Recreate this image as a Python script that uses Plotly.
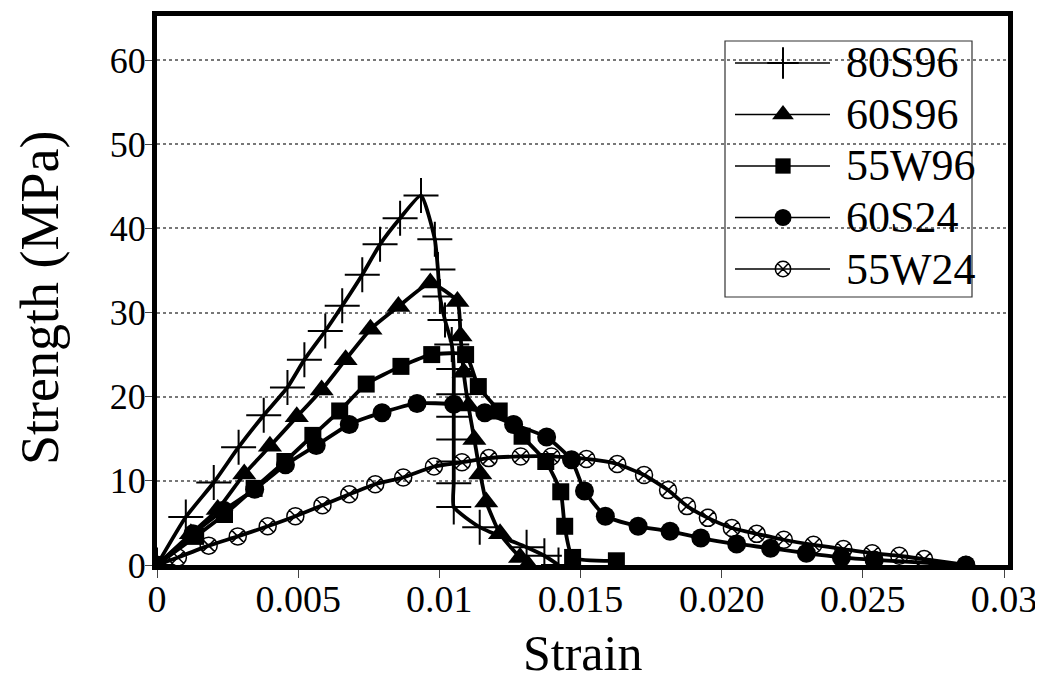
import plotly.graph_objects as go

# ---------------- data ----------------
series_names = ["80S96", "60S96", "55W96", "60S24", "55W24"]

strain_80S96 = [0, 0.00102, 0.00201, 0.00289, 0.00378, 0.00462, 0.00522, 0.00596, 0.00656,
                0.00727, 0.00790, 0.00861, 0.00935, 0.00984, 0.00995, 0.01002, 0.01020,
                0.01044, 0.01051, 0.01051, 0.01051, 0.01051, 0.01051, 0.01051, 0.01051,
                0.01143, 0.01309, 0.01372, 0.01422]
strength_80S96 = [0, 5.7, 9.8, 14.0, 17.8, 21.1, 24.4, 27.8, 30.8,
                  34.5, 38.1, 41.2, 43.9, 38.7, 35.1, 31.9, 29.1,
                  26.2, 23.3, 20.3, 17.6, 14.9, 12.3, 9.7, 6.9,
                  4.5, 2.1, 1.1, 0]

strain_60S96 = [0, 0.00120, 0.00215, 0.00309, 0.00400, 0.00495, 0.00583, 0.00668, 0.00756,
                0.00855, 0.00968, 0.01064, 0.01075, 0.01086, 0.01103, 0.01124, 0.01145,
                0.01166, 0.01215, 0.01286, 0.01314]
strength_60S96 = [0, 3.7, 6.6, 10.8, 14.1, 17.6, 20.8, 24.4, 28.0,
                  30.7, 33.5, 31.3, 27.2, 22.9, 18.9, 14.9, 10.8,
                  7.5, 3.7, 0.9, 0]

strain_55W96 = [0, 0.00137, 0.00239, 0.00344, 0.00453, 0.00552, 0.00647, 0.00741, 0.00864,
                0.00973, 0.01093, 0.01138, 0.01212, 0.01293, 0.01377, 0.01430, 0.01444,
                0.01472, 0.01627]
strength_55W96 = [0, 3.4, 6.0, 9.1, 12.3, 15.4, 18.3, 21.5, 23.6,
                  25.0, 25.0, 21.2, 18.3, 15.3, 12.3, 8.7, 4.6,
                  0.9, 0.5]

strain_60S24 = [0, 0.00127, 0.00236, 0.00346, 0.00455, 0.00564, 0.00681, 0.00797, 0.00921,
                0.01051, 0.01161, 0.01263, 0.01380, 0.01468, 0.01514, 0.01588, 0.01704,
                0.01817, 0.01926, 0.02053, 0.02173, 0.02300, 0.02424, 0.02540, 0.02865]
strength_60S24 = [0, 3.7, 6.5, 9.0, 11.9, 14.2, 16.7, 18.1, 19.2,
                  19.1, 18.1, 16.7, 15.2, 12.5, 8.8, 5.8, 4.6,
                  4.0, 3.2, 2.5, 2.0, 1.4, 0.9, 0.6, 0]

strain_55W24 = [0, 0.00074, 0.00183, 0.00286, 0.00392, 0.00490, 0.00586, 0.00681, 0.00773,
                0.00872, 0.00981, 0.01080, 0.01175, 0.01288, 0.01397, 0.01521, 0.01630,
                0.01725, 0.01810, 0.01877, 0.01951, 0.02036, 0.02124, 0.02220, 0.02325,
                0.02431, 0.02533, 0.02629, 0.02717, 0.02865]
strength_55W24 = [0, 0.9, 2.3, 3.4, 4.6, 5.8, 7.1, 8.4, 9.6,
                  10.4, 11.7, 12.2, 12.7, 12.9, 12.9, 12.6, 12.0,
                  10.7, 8.9, 7.0, 5.6, 4.4, 3.7, 3.0, 2.4,
                  1.9, 1.4, 1.1, 0.7, 0]

y_ticks = [0, 10, 20, 30, 40, 50, 60]
x_ticks = [0, 0.005, 0.01, 0.015, 0.02, 0.025, 0.03]
x_tick_labels = ["0", "0.005", "0.01", "0.015", "0.020", "0.025", "0.03"]
x_title = "Strain"
y_title = "Strength (MPa)"

# ---------------- styles ----------------
FONT = "Liberation Serif, Times New Roman, serif"
marker_styles = [
    dict(symbol="cross-thin-open", size=25, color="black", line=dict(width=2, color="black")),
    dict(symbol="triangle-up", size=21, color="black", line=dict(width=0)),
    dict(symbol="square", size=17, color="black", line=dict(width=0)),
    dict(symbol="circle", size=19, color="black", line=dict(width=0)),
    dict(symbol="circle-x-open", size=17, color="black", line=dict(width=1.5, color="black")),
]
xs = [strain_80S96, strain_60S96, strain_55W96, strain_60S24, strain_55W24]
ys = [strength_80S96, strength_60S96, strength_55W96, strength_60S24, strength_55W24]

fig = go.Figure()
for name, x, y, ms in zip(series_names, xs, ys, marker_styles):
    fig.add_trace(go.Scatter(
        x=x, y=y, name=name, mode="lines+markers",
        line=dict(color="black", width=3.8, shape="spline", smoothing=0.5),
        marker=ms, showlegend=False,
    ))

# ---------------- layout geometry ----------------
# the page body has an 8 px margin, so figure coords = screen coords - 8
OFF = 8
FIG_W, FIG_H = 1043 - OFF, 683 - OFF
S_L, S_R, S_T, S_B = 157, 1008, 16, 565          # plot area in screen pixels
L, R, T, B = S_L - OFF, S_R - OFF, S_T - OFF, S_B - OFF
W, H = S_R - S_L, S_B - S_T
def px_x(p):
    return (p - S_L) / W
def px_y(p):
    return (S_B - p) / H

# ---------------- custom legend (overlay axes in [0,1]) ----------------
row_y = [63, 114.5, 166, 217.5, 269]
for i, (name, ms) in enumerate(zip(series_names, marker_styles)):
    yy = px_y(row_y[i])
    lm = dict(ms)
    lm["size"] = ms["size"] * 0.9
    fig.add_trace(go.Scatter(
        x=[px_x(735), px_x(830)], y=[yy, yy], mode="lines",
        line=dict(color="black", width=1.5), xaxis="x2", yaxis="y2",
        showlegend=False, hoverinfo="skip"))
    fig.add_trace(go.Scatter(
        x=[px_x(783)], y=[yy], mode="markers", marker=lm,
        xaxis="x2", yaxis="y2", showlegend=False, hoverinfo="skip"))
    fig.add_annotation(x=px_x(844), y=yy, xref="paper", yref="paper",
                       text=name, showarrow=False, xanchor="left", yanchor="middle",
                       font=dict(family=FONT, size=44, color="black"))

fig.add_shape(type="rect", xref="paper", yref="paper",
              x0=px_x(725), x1=px_x(972), y0=px_y(297), y1=px_y(41),
              fillcolor="white", line=dict(color="#333", width=1.2), layer="between")

# axis titles as annotations for precise placement
fig.add_annotation(x=0.5, y=px_y(653), xref="paper", yref="paper", text=x_title,
                   showarrow=False, xanchor="center", yanchor="middle",
                   font=dict(family=FONT, size=50, color="black"))
fig.add_annotation(x=px_x(40), y=px_y(298), xref="paper", yref="paper", text=y_title,
                   showarrow=False, xanchor="center", yanchor="middle", textangle=-90,
                   font=dict(family=FONT, size=54, color="black"))

fig.update_layout(
    width=FIG_W, height=FIG_H,
    margin=dict(l=L, r=FIG_W - R, t=T, b=FIG_H - B, autoexpand=False),
    paper_bgcolor="white", plot_bgcolor="white",
    showlegend=False,
    font=dict(family=FONT, color="black"),
    xaxis=dict(
        range=[0, 0.03014], tickvals=x_ticks, ticktext=x_tick_labels,
        ticks="outside", ticklen=8, tickwidth=1, tickcolor="#444",
        tickfont=dict(family=FONT, size=38, color="black"),
        ticklabelstandoff=-12,
        showline=True, linewidth=5, linecolor="black", mirror=True,
        showgrid=False, zeroline=False, automargin=False,
    ),
    yaxis=dict(
        range=[0, 65.23], tickvals=y_ticks,
        ticks="outside", ticklen=7, tickwidth=1, tickcolor="#444",
        tickfont=dict(family=FONT, size=36, color="black"),
        ticklabelstandoff=-8,
        showline=True, linewidth=5, linecolor="black", mirror=True,
        showgrid=True, gridcolor="#777", gridwidth=1.5, griddash="dot",
        zeroline=False, automargin=False,
    ),
    xaxis2=dict(overlaying="x", range=[0, 1], visible=False, anchor="y2"),
    yaxis2=dict(overlaying="y", range=[0, 1], visible=False, anchor="x2"),
)

fig.write_html("out.html")
